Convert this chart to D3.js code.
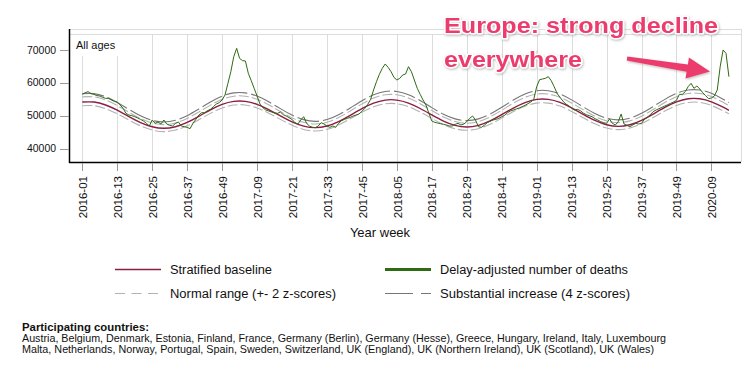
<!DOCTYPE html>
<html><head><meta charset="utf-8">
<script src="https://cdn.jsdelivr.net/npm/d3@7/dist/d3.min.js"></script>
<style>html,body{margin:0;padding:0;background:#fff;}svg{display:block;font-family:"Liberation Sans",Arial,sans-serif;}</style>
</head><body>
<svg id="chart" width="753" height="379"></svg>
<script>
// ---------- DATA ----------
const tickLabels = ["2016-01","2016-13","2016-25","2016-37","2016-49","2017-09","2017-21","2017-33","2017-45","2018-05","2018-17","2018-29","2018-41","2019-01","2019-13","2019-25","2019-37","2019-49","2020-09"];
const yTicks = [40000, 50000, 60000, 70000];
// Delay-adjusted number of deaths, weekly from 2016-01 (index 0) to 2020-15 (index 222)
const deaths = [56520,57030,57330,56730,56520,56120,56020,55610,55310,55310,54800,54400,54190,53280,52270,50750,50240,50040,49730,49330,48920,48420,47710,46900,48720,47710,48110,47500,48720,47500,47100,46900,47710,48110,46900,46690,46490,46090,47710,48920,50240,50950,50950,51560,51960,52770,53580,53990,54800,56320,59870,63410,67970,70510,67470,66760,66660,62910,60680,58350,56020,53590,52470,51760,51460,51150,50850,50750,51150,50340,49940,49430,48920,47910,47500,48720,49730,47710,46900,46490,46390,46900,47910,47500,46900,46490,46900,46490,47710,48520,48920,49230,49530,49940,50240,50550,51360,52270,53480,55000,57840,60370,62600,64430,65740,64730,63410,61690,60880,61390,62400,62700,64930,63410,60880,58350,56520,54800,53280,50750,48420,48010,47810,47610,47400,47200,46900,46900,47400,47710,47200,47500,48210,49230,49940,48720,46690,46490,47100,47910,48320,48720,48920,49230,49730,50140,50950,51460,51760,52060,52370,52770,53180,53690,54190,55000,58850,60980,61180,61390,61890,60680,58850,56830,55610,54500,53590,53080,52270,51760,51960,51560,50850,50340,50040,49730,49130,48720,48210,47910,47710,49030,47710,47200,48210,50550,47500,47100,46690,47200,47710,47500,47710,48920,49530,50340,51250,51760,52170,52570,52980,53380,53790,54190,54700,56520,56520,57330,58850,59870,58350,59060,58150,57030,56120,55210,55410,56020,57840,64930,70000,68990,61890];
// Smooth lines read every 4 weeks
const smoothWeeks = [0,4,8,12,16,20,24,28,32,36,40,44,48,52,56,60,64,68,72,76,80,84,88,92,96,100,104,108,112,116,120,124,128,132,136,140,144,148,152,156,160,164,168,172,176,180,184,188,192,196,200,204,208,212,216,220,222];
const baseline = [54180,54180,53280,51690,49760,47950,46670,46200,46680,47990,49850,51820,53460,54380,54380,53480,51890,49960,48150,46870,46400,46890,48240,50140,52160,53830,54780,54780,53860,52220,50250,48390,47080,46600,47090,48440,50340,52360,54030,54980,54980,54060,52420,50450,48590,47280,46800,47290,48640,50540,52560,54230,55180,55180,54260,52620,51650];
const normalHigh = [55750,55750,54800,53120,51080,49160,47810,47320,47820,49200,51170,53250,54990,55960,55960,55010,53330,51290,49370,48020,47520,48040,49470,51480,53620,55380,56390,56390,55410,53680,51590,49630,48240,47730,48250,49680,51690,53830,55590,56600,56600,55630,53890,51810,49840,48450,47940,48460,49890,51900,54040,55800,56800,56800,55840,54100,53080];
const normalLow = [53070,53070,52180,50620,48710,46930,45670,45200,45680,46970,48800,50740,52360,53270,53270,52380,50810,48910,47130,45860,45400,45880,47210,49090,51080,52730,53660,53660,52760,51140,49200,47360,46070,45600,46080,47410,49290,51280,52920,53860,53860,52950,51340,49390,47560,46270,45790,46280,47610,49480,51470,53120,54060,54060,53150,51530,50580];
const substantial = [56750,56750,55780,54050,51960,50000,48610,48120,48620,50040,52060,54190,55970,56970,56970,55990,54270,52180,50220,48830,48320,48850,50310,52370,54560,56370,57400,57400,56400,54630,52490,50480,49060,48540,49070,50530,52590,54780,56590,57620,57620,56620,54840,52710,50690,49270,48750,49280,50750,52810,54990,56800,57820,57820,56840,55060,54010];
const legendItems = ["Stratified baseline","Normal range (+- 2 z-scores)","Delay-adjusted number of deaths","Substantial increase (4 z-scores)"];
const countryLines = ["Austria, Belgium, Denmark, Estonia, Finland, France, Germany (Berlin), Germany (Hesse), Greece, Hungary, Ireland, Italy, Luxembourg","Malta, Netherlands, Norway, Portugal, Spain, Sweden, Switzerland, UK (England), UK (Northern Ireland), UK (Scotland), UK (Wales)"];

// ---------- STYLE ----------
const C = {baseline:"#8c1c46", deaths:"#2e6b12", normal:"#b2b2b2", subst:"#767676", grid:"#dcdcdc", pink:"#ec3b6d"};
const svg = d3.select("#chart");
const L = 70, R = 741, T = 34, B = 162;
const x = d3.scaleLinear().domain([-4.22, 226.15]).range([L, R]);
const y = d3.scaleLinear().domain([35960, 74860]).range([B, T]);

const defs = svg.append("defs");
const f = defs.append("filter").attr("id","shadow").attr("x","-10%").attr("y","-30%").attr("width","130%").attr("height","180%");
f.append("feDropShadow").attr("dx",0.8).attr("dy",1.2).attr("stdDeviation",1.2).attr("flood-color","#888").attr("flood-opacity",0.55);

// outer top line
svg.append("line").attr("x1",L).attr("x2",R).attr("y1",29.5).attr("y2",29.5).attr("stroke",C.grid);
// plot frame (top, right)
svg.append("line").attr("x1",L).attr("x2",R).attr("y1",T+0.5).attr("y2",T+0.5).attr("stroke",C.grid);
svg.append("line").attr("x1",R+0.5).attr("x2",R+0.5).attr("y1",29).attr("y2",B).attr("stroke",C.grid);

const tickIdx = tickLabels.map((d,i)=>i*12);
// vertical gridlines
svg.append("g").selectAll("line").data(tickIdx).join("line")
  .attr("x1",d=>Math.round(x(d))+0.5).attr("x2",d=>Math.round(x(d))+0.5)
  .attr("y1",T).attr("y2",B).attr("stroke",C.grid);

// "All ages" label with white box
svg.append("rect").attr("x",L+1).attr("y",T+1).attr("width",52).attr("height",21).attr("fill","#fff");
svg.append("text").attr("x",76).attr("y",49).attr("font-size",11).attr("fill","#111").text("All ages");

// lines
const smooth = (arr)=> d3.line().x((d,i)=>x(smoothWeeks[i])).y(d=>y(d)).curve(d3.curveNatural)(arr);
svg.append("path").attr("d",smooth(normalLow)).attr("fill","none").attr("stroke",C.normal).attr("stroke-width",1.1).attr("stroke-dasharray","10,3");
svg.append("path").attr("d",smooth(normalHigh)).attr("fill","none").attr("stroke",C.normal).attr("stroke-width",1.1).attr("stroke-dasharray","10,3");
svg.append("path").attr("d",smooth(substantial)).attr("fill","none").attr("stroke",C.subst).attr("stroke-width",1.1).attr("stroke-dasharray","22,4");
svg.append("path").attr("d",smooth(baseline)).attr("fill","none").attr("stroke",C.baseline).attr("stroke-width",1.4);
svg.append("path").attr("d",d3.line().x((d,i)=>x(i)).y(d=>y(d))(deaths)).attr("fill","none").attr("stroke",C.deaths).attr("stroke-width",1);

// axes
svg.append("line").attr("x1",L-0.5).attr("x2",L-0.5).attr("y1",29).attr("y2",B+1).attr("stroke","#000").attr("stroke-width",1.5);
svg.append("line").attr("x1",L-1).attr("x2",R).attr("y1",B+0.5).attr("y2",B+0.5).attr("stroke","#000").attr("stroke-width",1.5);
// y ticks
const yg = svg.append("g");
yg.selectAll("line").data(yTicks).join("line").attr("x1",60).attr("x2",L-1).attr("y1",d=>Math.round(y(d))+0.5).attr("y2",d=>Math.round(y(d))+0.5).attr("stroke","#999");
yg.selectAll("text").data(yTicks).join("text").attr("x",56).attr("y",d=>y(d)+3.6).attr("text-anchor","end")
  .attr("font-size",10).attr("textLength",29).attr("lengthAdjust","spacingAndGlyphs").attr("fill","#111").text(d=>d);
// x ticks
const xg = svg.append("g");
xg.selectAll("line").data(tickIdx).join("line").attr("x1",d=>Math.round(x(d))+0.5).attr("x2",d=>Math.round(x(d))+0.5).attr("y1",B+1).attr("y2",171).attr("stroke","#999");
xg.selectAll("text").data(tickLabels).join("text")
  .attr("transform",(d,i)=>`translate(${x(tickIdx[i])+0.5},176) rotate(-90)`)
  .attr("text-anchor","end").attr("dy","0.36em").attr("font-size",11.5).attr("fill","#111").text(d=>d);
svg.append("text").attr("x",380).attr("y",237).attr("text-anchor","middle").attr("font-size",13).attr("fill","#111").text("Year week");

// legend
const lg = svg.append("g");
const legPos = [[115,269],[115,293],[385,269],[385,293]];
const legLen = [102,166,188,190];
const legStyle = [
  {c:C.baseline,w:1.4,dash:null},
  {c:C.normal,w:1.2,dash:"10,6.5"},
  {c:C.deaths,w:3,dash:null},
  {c:C.subst,w:1.2,dash:"28,8"}];
legendItems.forEach((t,i)=>{
  const [lx,ly]=legPos[i];
  lg.append("line").attr("x1",lx).attr("x2",lx+46).attr("y1",ly+0.5).attr("y2",ly+0.5)
    .attr("stroke",legStyle[i].c).attr("stroke-width",legStyle[i].w).attr("stroke-dasharray",legStyle[i].dash);
  lg.append("text").attr("x",lx+55).attr("y",ly+4.5).attr("font-size",12).attr("fill","#111")
    .attr("textLength",legLen[i]).attr("lengthAdjust","spacingAndGlyphs").text(t);
});

// participating countries
svg.append("text").attr("x",22).attr("y",331).attr("font-size",10.5).attr("font-weight","bold").attr("fill","#111")
  .attr("textLength",127).attr("lengthAdjust","spacingAndGlyphs").text("Participating countries:");
svg.append("text").attr("x",22).attr("y",342).attr("font-size",10.5).attr("fill","#111")
  .attr("textLength",644).attr("lengthAdjust","spacingAndGlyphs").text(countryLines[0]);
svg.append("text").attr("x",22).attr("y",352.5).attr("font-size",10.5).attr("fill","#111")
  .attr("textLength",632).attr("lengthAdjust","spacingAndGlyphs").text(countryLines[1]);

// annotation
const ann = svg.append("g");
ann.append("line").attr("x1",x(52.3)).attr("x2",x(224.8)).attr("y1",y(72000)).attr("y2",y(72000))
  .attr("stroke",C.pink).attr("stroke-width",2).attr("opacity",0.9).attr("filter","url(#shadow)");
const arrowPts = [[627.3,56.5],[687.9,64.5],[688.9,57.5],[710,71.5],[685.5,78.5],[686.6,71.8],[626.7,60.5]];
ann.append("polygon").attr("points",arrowPts.map(p=>p.join(",")).join(" ")).attr("fill",C.pink).attr("filter","url(#shadow)");
[["Europe: strong decline",444,33,274],["everywhere",444,66.5,138]].forEach(([t,tx,ty,tl])=>{
  ann.append("text").attr("x",tx).attr("y",ty).attr("font-size",22).attr("font-weight","bold")
    .attr("textLength",tl).attr("lengthAdjust","spacingAndGlyphs")
    .attr("fill",C.pink).attr("stroke","#fff").attr("stroke-width",3).attr("paint-order","stroke")
    .attr("stroke-linejoin","round").attr("filter","url(#shadow)").text(t);
});
</script>
</body></html>
